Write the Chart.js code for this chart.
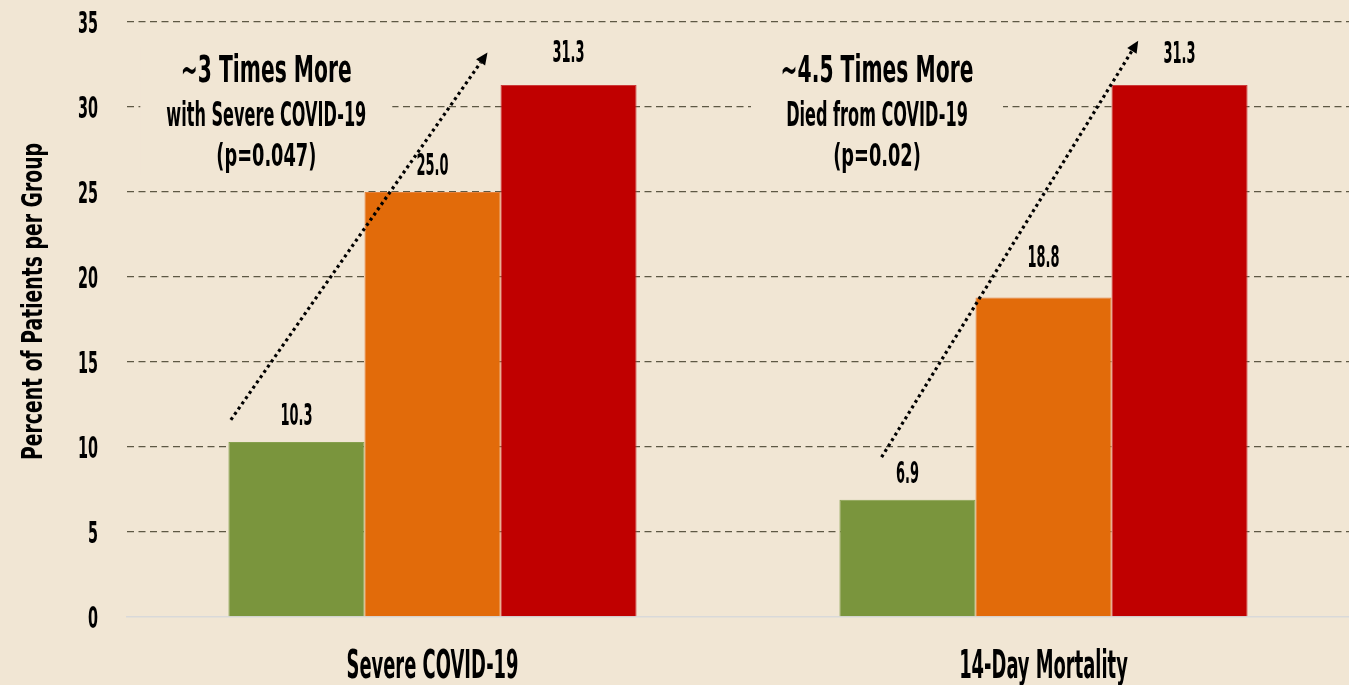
<!DOCTYPE html>
<html>
<head>
<meta charset="utf-8">
<script src="https://cdn.jsdelivr.net/npm/chart.js@4.4.1/dist/chart.umd.min.js"></script>
<style>
  html, body { margin: 0; padding: 0; background: #f1e6d4; }
  canvas { display: block; }
</style>
</head>
<body>
<canvas id="chart" width="1349" height="685"></canvas>
<script>
// ---------- data ----------
const categories = ['Severe COVID-19', '14-Day Mortality'];
const seriesNames = ['Group 1', 'Group 2', 'Group 3'];
const greenValues = [10.3, 6.9];
const orangeValues = [25.0, 18.8];
const redValues = [31.3, 31.3];
const yTickValues = [0, 5, 10, 15, 20, 25, 30, 35];
const yAxisTitle = 'Percent of Patients per Group';
const noteTitles = ['~3 Times More', '~4.5 Times More'];
const noteSubtitles = ['with Severe COVID-19', 'Died from COVID-19'];
const notePValues = ['(p=0.047)', '(p=0.02)'];
// trend arrows, in data units (category index, percent)
const arrowFromIndex = [-0.33, 0.735];
const arrowFromValue = [11.6, 9.4];
const arrowToIndex = [0.09, 1.155];
const arrowToValue = [33.2, 33.9];

// ---------- styles ----------
const BG = '#f1e6d4';
const FAMILY = '"Liberation Sans Narrow", "DejaVu Sans Condensed", "Liberation Sans", sans-serif';
const CAP = 0.716;
const TEXT = '#000000';

function setFont(ctx, capH) {
  ctx.font = 'bold ' + (capH / CAP).toFixed(2) + 'px ' + FAMILY;
}
function fitSx(ctx, sample, capH, targetW) {
  setFont(ctx, capH);
  return targetW / ctx.measureText(sample).width;
}
function drawCond(ctx, text, x, y, capH, sx, align, rot) {
  ctx.save();
  setFont(ctx, capH);
  ctx.fillStyle = TEXT;
  ctx.textAlign = align || 'center';
  ctx.textBaseline = 'alphabetic';
  ctx.translate(x, y);
  if (rot) ctx.rotate(rot);
  ctx.scale(sx, 1);
  ctx.fillText(text, 0, 0);
  ctx.restore();
}

// Notes + text boxes (behind bars)
const notesPlugin = {
  id: 'notes',
  beforeDatasetsDraw(chart) {
    const ctx = chart.ctx;
    const xs = chart.scales.x, ys = chart.scales.y;
    const centersIdx = [-0.272, 0.7275];
    const sxT = fitSx(ctx, noteTitles[0], 26.5, 171);
    const sxS = fitSx(ctx, noteSubtitles[0], 24.5, 200);
    const sxP = fitSx(ctx, notePValues[0], 22.5, 100);
    for (let i = 0; i < categories.length; i++) {
      const cx = xs.getPixelForValue(centersIdx[i]);
      ctx.save();
      ctx.fillStyle = BG;
      ctx.fillRect(cx - 126, ys.getPixelForValue(33.5), 252, ys.getPixelForValue(26) - ys.getPixelForValue(33.5));
      ctx.restore();
      drawCond(ctx, noteTitles[i], cx, ys.getPixelForValue(31.5), 26.5, sxT, 'center');
      drawCond(ctx, noteSubtitles[i], cx, ys.getPixelForValue(28.88), 24.5, sxS, 'center');
      drawCond(ctx, notePValues[i], cx, ys.getPixelForValue(26.53), 22.5, sxP, 'center');
    }
  }
};

// Axis texts, value labels and arrows
const overlayPlugin = {
  id: 'overlay',
  afterDatasetsDraw(chart, args, opts) {
    const ctx = chart.ctx;
    const xs = chart.scales.x, ys = chart.scales.y;
    const area = chart.chartArea;

    // y tick labels
    const sxTick = fitSx(ctx, '35', 22, 20);
    ys.ticks.forEach(t => {
      drawCond(ctx, String(t.value), area.left - 29, ys.getPixelForValue(t.value) + 11, 22, sxTick, 'right');
    });
    // x category labels
    const sxCat = fitSx(ctx, categories[0], 28, 172);
    categories.forEach((c, i) => {
      drawCond(ctx, c, xs.getPixelForValue(i), area.bottom + 61, 28, sxCat, 'center');
    });
    // y axis title
    const sxTitle = fitSx(ctx, yAxisTitle, 20, 317);
    drawCond(ctx, yAxisTitle, 42, (area.top + area.bottom) / 2 - 18, 20, sxTitle, 'center', -Math.PI / 2);

    // value labels
    const sxVal = fitSx(ctx, '10.3', 22, 32);
    const gaps = opts.labelGaps;
    chart.data.datasets.forEach((ds, di) => {
      const meta = chart.getDatasetMeta(di);
      meta.data.forEach((bar, bi) => {
        drawCond(ctx, ds.data[bi].toFixed(1), bar.x, bar.y - gaps[di][bi], 22, sxVal, 'center');
      });
    });

    // dotted arrows
    for (let i = 0; i < arrowFromIndex.length; i++) {
      const x1 = xs.getPixelForValue(arrowFromIndex[i]);
      const y1 = ys.getPixelForValue(arrowFromValue[i]);
      const x2 = xs.getPixelForValue(arrowToIndex[i]);
      const y2 = ys.getPixelForValue(arrowToValue[i]);
      const ang = Math.atan2(y2 - y1, x2 - x1);
      const headLen = 12, headHalf = 5.5;
      const bx = x2 - headLen * Math.cos(ang), by = y2 - headLen * Math.sin(ang);
      ctx.save();
      ctx.strokeStyle = '#000';
      ctx.lineWidth = 3.2;
      ctx.setLineDash([3, 3.4]);
      ctx.beginPath();
      ctx.moveTo(x1, y1);
      ctx.lineTo(bx, by);
      ctx.stroke();
      ctx.setLineDash([]);
      ctx.fillStyle = '#000';
      ctx.beginPath();
      ctx.moveTo(x2, y2);
      ctx.lineTo(bx + headHalf * Math.sin(ang), by - headHalf * Math.cos(ang));
      ctx.lineTo(bx - headHalf * Math.sin(ang), by + headHalf * Math.cos(ang));
      ctx.closePath();
      ctx.fill();
      ctx.restore();
    }
  }
};

new Chart(document.getElementById('chart'), {
  type: 'bar',
  data: {
    labels: categories,
    datasets: [
      { label: seriesNames[0], data: greenValues, backgroundColor: '#7a953d', borderColor: '#86a04e', borderWidth: 1 },
      { label: seriesNames[1], data: orangeValues, backgroundColor: '#e26b0a', borderColor: '#e7813a', borderWidth: 1 },
      { label: seriesNames[2], data: redValues, backgroundColor: '#c00000', borderColor: '#cc3a3a', borderWidth: 1 }
    ]
  },
  options: {
    responsive: false,
    animation: false,
    devicePixelRatio: 1,
    layout: { padding: { left: 127, top: 22, right: 0, bottom: 68 } },
    categoryPercentage: 0.668,
    barPercentage: 1.0,
    plugins: {
      legend: { display: false },
      tooltip: { enabled: false },
      overlay: { labelGaps: [[17, 17], [17, 30], [22.5, 22]] }
    },
    scales: {
      x: {
        grid: { display: false, drawTicks: false },
        border: { display: true, color: '#d9d9d9', width: 1.5 },
        ticks: { display: false }
      },
      y: {
        min: 0,
        max: 35,
        afterBuildTicks: (axis) => { axis.ticks = yTickValues.map(v => ({ value: v })); },
        grid: {
          drawTicks: false,
          lineWidth: 1.3,
          color: (c) => (c.tick && c.tick.value === 0) ? 'rgba(0,0,0,0)' : '#5e5844'
        },
        border: { display: false, dash: [7, 4.5] },
        ticks: { display: false }
      }
    }
  },
  plugins: [notesPlugin, overlayPlugin]
});
</script>
</body>
</html>
